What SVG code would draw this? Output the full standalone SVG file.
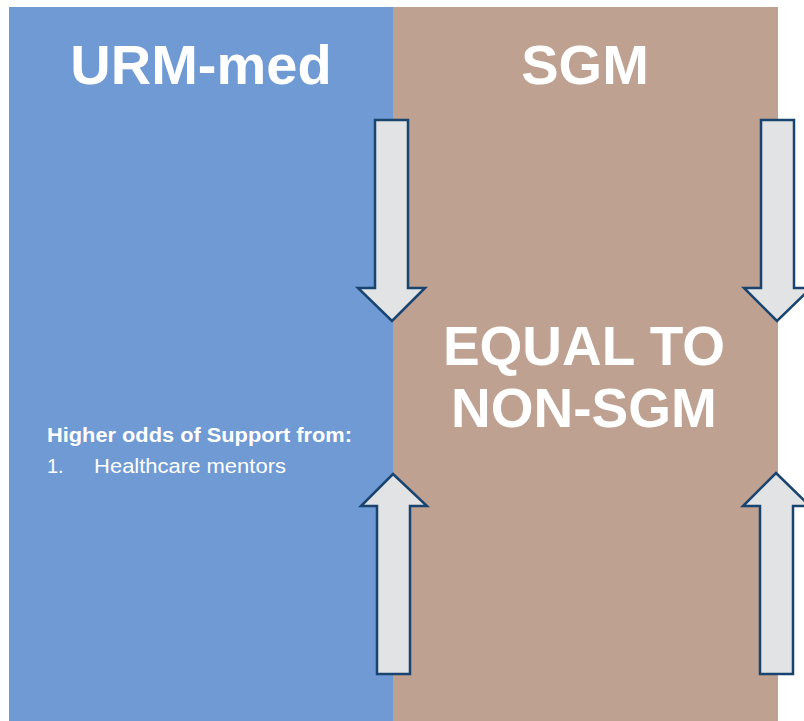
<svg xmlns="http://www.w3.org/2000/svg" width="804" height="721" viewBox="0 0 804 721">
<style>
.title{font-family:"Liberation Sans",Arial,sans-serif;font-weight:bold;fill:#fff;text-anchor:middle}
.small{font-family:"Liberation Sans",Arial,sans-serif;fill:#fff;font-size:20px}
.arrow{fill:#E1E3E5;stroke:#1A4470;stroke-width:2.5;stroke-linejoin:miter}
</style>
<rect x="0" y="0" width="804" height="721" fill="#fff"/>
<g id="urm-panel">
<rect x="9" y="7" width="384" height="714" fill="#6F9AD3"/>
<text class="title" x="201" y="84" font-size="56">URM-med</text>
<text class="small" x="47" y="442" font-weight="bold" textLength="305" lengthAdjust="spacingAndGlyphs">Higher odds of Support from:</text>
<text class="small" x="47" y="473">1.</text>
<text class="small" x="94" y="473" textLength="192" lengthAdjust="spacingAndGlyphs">Healthcare mentors</text>
</g>
<g id="sgm-panel">
<rect x="393" y="7" width="385" height="714" fill="#BFA191"/>
<text class="title" x="585" y="84" font-size="56">SGM</text>
<text class="title" x="584" y="365" font-size="55">EQUAL TO</text>
<text class="title" x="584" y="427" font-size="55">NON-SGM</text>
</g>
<g id="connectors">
<polygon class="arrow" points="375,120 408,120 408,288 425,288 392,321 358,288 375,288"/>
<polygon class="arrow" points="393,474 427,506 410,506 410,674 377,674 377,506 361,506"/>
<polygon class="arrow" points="761,120 794,120 794,288 811,288 777,321 744,288 761,288"/>
<polygon class="arrow" points="776,473 810,506 793,506 793,674 760,674 760,506 743,506"/>
</g>
</svg>
